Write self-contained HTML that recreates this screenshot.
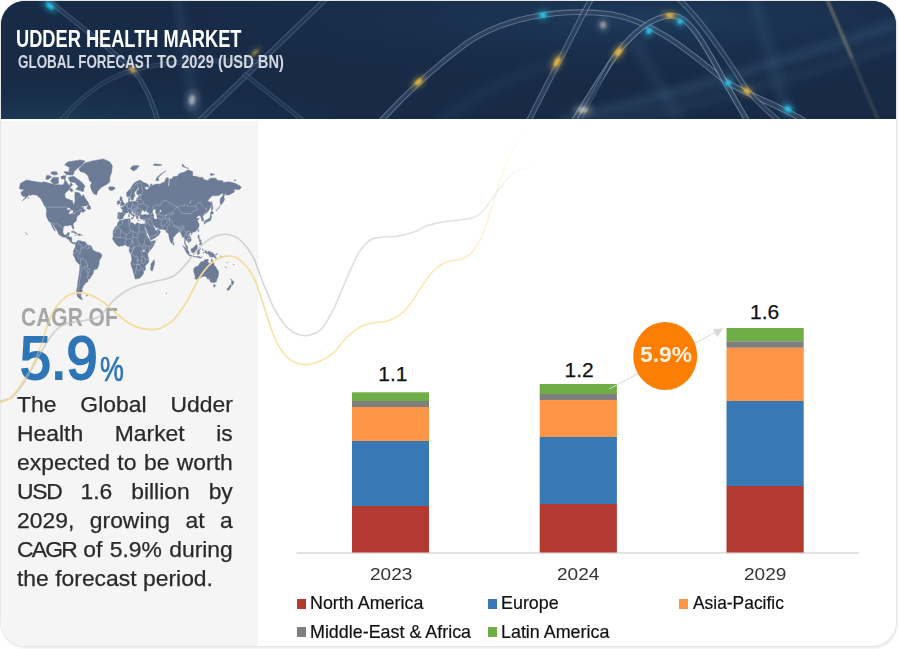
<!DOCTYPE html>
<html><head><meta charset="utf-8"><title>Udder Health Market</title>
<style>
html,body{margin:0;padding:0;background:#fff;}
body{width:900px;height:649px;position:relative;overflow:hidden;font-family:"Liberation Sans",sans-serif;}
#card{position:absolute;left:1px;top:1px;width:895px;height:645px;border-radius:24px;overflow:hidden;background:#fff;box-shadow:0 0 0 1px #e6e6e6, 1px 2px 3px rgba(0,0,0,.10);}
#hdr{position:absolute;left:0;top:0;width:895px;height:117.7px;background:#172b47;overflow:hidden;}
#left{position:absolute;left:0;top:120px;width:256.7px;height:530px;background:#f5f5f5;}
.t{position:absolute;white-space:nowrap;transform-origin:0 0;line-height:1;}
#title{left:14.6px;top:25.6px;font-size:24.5px;font-weight:bold;color:#fff;transform:scaleX(.744);}
#sub{left:16.5px;top:52px;font-size:18px;font-weight:bold;color:#d3d8e0;transform:scaleX(.746);}
#sub2{left:155.7px;top:52px;font-size:18px;font-weight:bold;color:#d3d8e0;transform:scaleX(.815);}
#cagr{left:21.2px;top:304.3px;font-size:26px;font-weight:bold;color:#a6a6a6;transform:scaleX(.807);}
#big{left:19.6px;top:327.3px;font-size:62px;font-weight:normal;-webkit-text-stroke:2.2px #2e75b6;color:#2e75b6;transform:scaleX(.90);}
#pct{left:99.9px;top:350.7px;font-size:35px;font-weight:normal;-webkit-text-stroke:.7px #2e75b6;color:#2e75b6;transform:scaleX(.767);}
#para{position:absolute;left:17px;top:391.25px;width:203.6px;font-size:21.6px;line-height:28.87px;color:#2a2a2a;text-align:justify;transform:scaleX(1.06);transform-origin:0 0;-webkit-text-stroke:.25px #2a2a2a;}
#para div{text-align:justify;text-align-last:justify;white-space:nowrap;}
#para div.last{text-align-last:left;}
.val{font-size:21px;color:#111;-webkit-text-stroke:.25px #111;}
.yr{font-size:17px;color:#333;transform:scaleX(1.12);}
.lg{font-size:17.8px;color:#111;transform:scaleX(1.006);-webkit-text-stroke:.2px #111;}
.mk{position:absolute;width:9.5px;height:9.5px;}
</style></head><body>
<div id="card">
<div id="hdr">
<svg width="895" height="118" viewBox="1 1 895 118" style="position:absolute;left:0;top:0">
<defs>
<radialGradient id="hg1" cx="0.72" cy="0.15" r="0.55"><stop offset="0" stop-color="#25476d" stop-opacity=".55"/><stop offset="1" stop-color="#172b47" stop-opacity="0"/></radialGradient>
<radialGradient id="hg2" cx="0.05" cy="1" r="0.35"><stop offset="0" stop-color="#1d4461" stop-opacity=".6"/><stop offset="1" stop-color="#1a2f4c" stop-opacity="0"/></radialGradient>
<filter id="b0" x="-10%" y="-10%" width="120%" height="120%"><feGaussianBlur stdDeviation=".5"/></filter>
<filter id="b1" x="-20%" y="-20%" width="140%" height="140%"><feGaussianBlur stdDeviation="1.1"/></filter>
<filter id="b2" x="-50%" y="-50%" width="200%" height="200%"><feGaussianBlur stdDeviation="2.5"/></filter>
<filter id="b3" x="-20%" y="-20%" width="140%" height="140%"><feGaussianBlur stdDeviation="5"/></filter>
</defs>
<rect x="0" y="0" width="900" height="120" fill="#172b47"/>
<rect x="0" y="0" width="900" height="120" fill="url(#hg1)"/>
<rect x="0" y="0" width="900" height="120" fill="url(#hg2)"/>
<g id="streaks"><path d="M560 122 C 680 95 800 55 905 22" fill="none" stroke="#4b6d92" stroke-width="9" stroke-opacity="0.33" filter="url(#b3)"/><path d="M590 128 C 700 105 820 70 905 42" fill="none" stroke="#4b6d92" stroke-width="7" stroke-opacity="0.22" filter="url(#b3)"/><path d="M753 -3 L 790 122" fill="none" stroke="#4b6d92" stroke-width="9" stroke-opacity="0.22" filter="url(#b3)"/><path d="M633 38 L 680 122" fill="none" stroke="#4b6d92" stroke-width="9" stroke-opacity="0.2" filter="url(#b3)"/><path d="M177 -3 L 198 122" fill="none" stroke="#5c7896" stroke-width="8" stroke-opacity="0.2" filter="url(#b3)"/><path d="M440 122 C 470 100 500 80 560 60" fill="none" stroke="#4b6d92" stroke-width="10" stroke-opacity="0.12" filter="url(#b3)"/><path d="M380 122 C 400 100 430 70 467 43 C 505 17 560 8 610 14 C 660 22 700 62 728 83 C 755 98 785 108 806 122" fill="none" stroke="#9fb0c8" stroke-width="5.7" stroke-opacity="0.5" filter="url(#b0)"/><path d="M380 122 C 400 100 430 70 467 43 C 505 17 560 8 610 14 C 660 22 700 62 728 83 C 755 98 785 108 806 122" fill="none" stroke="#19304e" stroke-width="3.5" stroke-opacity="0.72"/><path d="M573 122 C 590 95 605 70 618 52 C 632 34 652 16 672 15.5 C 690 16 704 45 717 67 C 728 88 738 105 748 122" fill="none" stroke="#9fb0c8" stroke-width="5.7" stroke-opacity="0.55" filter="url(#b0)"/><path d="M573 122 C 590 95 605 70 618 52 C 632 34 652 16 672 15.5 C 690 16 704 45 717 67 C 728 88 738 105 748 122" fill="none" stroke="#19304e" stroke-width="3.5" stroke-opacity="0.72"/><path d="M528 122 L 592 -3" fill="none" stroke="#9fb0c8" stroke-width="5.7" stroke-opacity="0.45" filter="url(#b0)"/><path d="M528 122 L 592 -3" fill="none" stroke="#19304e" stroke-width="3.5" stroke-opacity="0.72"/><path d="M676 -3 C 695 12 725 55 747 90 C 760 105 770 113 780 122" fill="none" stroke="#9fb0c8" stroke-width="5.3" stroke-opacity="0.42" filter="url(#b0)"/><path d="M676 -3 C 695 12 725 55 747 90 C 760 105 770 113 780 122" fill="none" stroke="#19304e" stroke-width="3.0999999999999996" stroke-opacity="0.72"/><path d="M826 -3 L 879 122" fill="none" stroke="#b6a27e" stroke-width="3.2" stroke-opacity=".2" filter="url(#b1)"/><path d="M826 -3 L 852 58" fill="none" stroke="#c9b48a" stroke-width="3" stroke-opacity=".28" filter="url(#b1)"/><path d="M44 -3 C 75 22 112 50 133 70 C 145 84 152 100 158 122" fill="none" stroke="#9fb0c8" stroke-width="4.9" stroke-opacity="0.3" filter="url(#b0)"/><path d="M44 -3 C 75 22 112 50 133 70 C 145 84 152 100 158 122" fill="none" stroke="#19304e" stroke-width="2.7" stroke-opacity="0.72"/><path d="M60 122 C 78 100 100 80 133 70 C 170 60 215 60 262 62" fill="none" stroke="#9fb0c8" stroke-width="4.7" stroke-opacity="0.2" filter="url(#b0)"/><path d="M60 122 C 78 100 100 80 133 70 C 170 60 215 60 262 62" fill="none" stroke="#19304e" stroke-width="2.5" stroke-opacity="0.72"/><path d="M198 122 L 330 -5" fill="none" stroke="#9fb0c8" stroke-width="5.3" stroke-opacity="0.3" filter="url(#b0)"/><path d="M198 122 L 330 -5" fill="none" stroke="#19304e" stroke-width="3.0999999999999996" stroke-opacity="0.72"/><path d="M243 73 L 305 122" fill="none" stroke="#9fb0c8" stroke-width="4.7" stroke-opacity="0.22" filter="url(#b0)"/><path d="M243 73 L 305 122" fill="none" stroke="#19304e" stroke-width="2.5" stroke-opacity="0.72"/><path d="M578 122 L 612 60" fill="none" stroke="#9fb0c8" stroke-width="4.7" stroke-opacity="0.25" filter="url(#b0)"/><path d="M578 122 L 612 60" fill="none" stroke="#19304e" stroke-width="2.5" stroke-opacity="0.72"/><ellipse cx="50" cy="6" rx="9.9" ry="5.720000000000001" fill="#28c3e6" opacity="0.33249999999999996" filter="url(#b2)" transform="rotate(40 50 6)"/><ellipse cx="50" cy="6" rx="4.5" ry="2.6" fill="#28c3e6" opacity="0.95" filter="url(#b1)" transform="rotate(40 50 6)"/><ellipse cx="132.5" cy="69.5" rx="6.6000000000000005" ry="4.840000000000001" fill="#e3b54c" opacity="0.27999999999999997" filter="url(#b2)" transform="rotate(40 132.5 69.5)"/><ellipse cx="132.5" cy="69.5" rx="3" ry="2.2" fill="#e3b54c" opacity="0.8" filter="url(#b1)" transform="rotate(40 132.5 69.5)"/><ellipse cx="192" cy="100" rx="7.040000000000001" ry="11.0" fill="#dfe3e8" opacity="0.1925" filter="url(#b2)" transform="rotate(8 192 100)"/><ellipse cx="192" cy="100" rx="3.2" ry="5" fill="#dfe3e8" opacity="0.55" filter="url(#b1)" transform="rotate(8 192 100)"/><ellipse cx="255" cy="52.5" rx="8.8" ry="3.9600000000000004" fill="#e3b54c" opacity="0.175" filter="url(#b2)" transform="rotate(-45 255 52.5)"/><ellipse cx="255" cy="52.5" rx="4" ry="1.8" fill="#e3b54c" opacity="0.5" filter="url(#b1)" transform="rotate(-45 255 52.5)"/><ellipse cx="418.5" cy="82" rx="8.8" ry="5.28" fill="#e8b842" opacity="0.33249999999999996" filter="url(#b2)" transform="rotate(-40 418.5 82)"/><ellipse cx="418.5" cy="82" rx="4" ry="2.4" fill="#e8b842" opacity="0.95" filter="url(#b1)" transform="rotate(-40 418.5 82)"/><ellipse cx="543" cy="15" rx="7.040000000000001" ry="5.720000000000001" fill="#2ec5ea" opacity="0.33249999999999996" filter="url(#b2)" transform="rotate(-10 543 15)"/><ellipse cx="543" cy="15" rx="3.2" ry="2.6" fill="#2ec5ea" opacity="0.95" filter="url(#b1)" transform="rotate(-10 543 15)"/><ellipse cx="557" cy="62" rx="5.720000000000001" ry="11.0" fill="#e8b842" opacity="0.33249999999999996" filter="url(#b2)" transform="rotate(27 557 62)"/><ellipse cx="557" cy="62" rx="2.6" ry="5" fill="#e8b842" opacity="0.95" filter="url(#b1)" transform="rotate(27 557 62)"/><ellipse cx="583" cy="110" rx="11.0" ry="7.040000000000001" fill="#e9e2d2" opacity="0.1925" filter="url(#b2)" transform="rotate(0 583 110)"/><ellipse cx="583" cy="110" rx="5" ry="3.2" fill="#e9e2d2" opacity="0.55" filter="url(#b1)" transform="rotate(0 583 110)"/><ellipse cx="603" cy="25" rx="6.6000000000000005" ry="7.48" fill="#d9cfc4" opacity="0.175" filter="url(#b2)" transform="rotate(0 603 25)"/><ellipse cx="603" cy="25" rx="3" ry="3.4" fill="#d9cfc4" opacity="0.5" filter="url(#b1)" transform="rotate(0 603 25)"/><ellipse cx="618.5" cy="52" rx="5.720000000000001" ry="10.12" fill="#e8b842" opacity="0.33249999999999996" filter="url(#b2)" transform="rotate(35 618.5 52)"/><ellipse cx="618.5" cy="52" rx="2.6" ry="4.6" fill="#e8b842" opacity="0.95" filter="url(#b1)" transform="rotate(35 618.5 52)"/><ellipse cx="649" cy="31" rx="5.720000000000001" ry="6.6000000000000005" fill="#2ec5ea" opacity="0.33249999999999996" filter="url(#b2)" transform="rotate(30 649 31)"/><ellipse cx="649" cy="31" rx="2.6" ry="3" fill="#2ec5ea" opacity="0.95" filter="url(#b1)" transform="rotate(30 649 31)"/><ellipse cx="670" cy="15.5" rx="8.8" ry="4.840000000000001" fill="#e8b842" opacity="0.315" filter="url(#b2)" transform="rotate(5 670 15.5)"/><ellipse cx="670" cy="15.5" rx="4" ry="2.2" fill="#e8b842" opacity="0.9" filter="url(#b1)" transform="rotate(5 670 15.5)"/><ellipse cx="680" cy="21.5" rx="5.720000000000001" ry="5.720000000000001" fill="#2ec5ea" opacity="0.33249999999999996" filter="url(#b2)" transform="rotate(40 680 21.5)"/><ellipse cx="680" cy="21.5" rx="2.6" ry="2.6" fill="#2ec5ea" opacity="0.95" filter="url(#b1)" transform="rotate(40 680 21.5)"/><ellipse cx="728" cy="83" rx="5.720000000000001" ry="6.16" fill="#2ec5ea" opacity="0.33249999999999996" filter="url(#b2)" transform="rotate(30 728 83)"/><ellipse cx="728" cy="83" rx="2.6" ry="2.8" fill="#2ec5ea" opacity="0.95" filter="url(#b1)" transform="rotate(30 728 83)"/><ellipse cx="747" cy="91" rx="8.36" ry="5.28" fill="#e8b842" opacity="0.315" filter="url(#b2)" transform="rotate(35 747 91)"/><ellipse cx="747" cy="91" rx="3.8" ry="2.4" fill="#e8b842" opacity="0.9" filter="url(#b1)" transform="rotate(35 747 91)"/><ellipse cx="788" cy="109" rx="7.48" ry="6.16" fill="#2ec5ea" opacity="0.33249999999999996" filter="url(#b2)" transform="rotate(35 788 109)"/><ellipse cx="788" cy="109" rx="3.4" ry="2.8" fill="#2ec5ea" opacity="0.95" filter="url(#b1)" transform="rotate(35 788 109)"/></g>
</svg>
<div class="t" id="title">UDDER HEALTH MARKET</div>
<div class="t" id="sub">GLOBAL FORECAST</div><div class="t" id="sub2">TO 2029 (USD BN)</div>
</div>
<div id="left"></div>
</div>

<svg width="900" height="649" viewBox="0 0 900 649" style="position:absolute;left:0;top:0">
<defs>
<linearGradient id="gg" gradientUnits="userSpaceOnUse" x1="0" y1="0" x2="540" y2="0"><stop offset="0" stop-color="#d2d2d2"/><stop offset=".47" stop-color="#d2d2d2"/><stop offset=".5" stop-color="#dadada"/><stop offset=".85" stop-color="#e3e3e3"/><stop offset="1" stop-color="#e3e3e3" stop-opacity="0"/></linearGradient>
<linearGradient id="yg" gradientUnits="userSpaceOnUse" x1="0" y1="0" x2="530" y2="0"><stop offset="0" stop-color="#f5dc98"/><stop offset=".48" stop-color="#f5dc98"/><stop offset=".52" stop-color="#fbe3a6"/><stop offset=".85" stop-color="#fde9b8"/><stop offset="1" stop-color="#fde9b8" stop-opacity="0"/></linearGradient>
</defs>
<g id="map">
<path d="M19.3 187.9L20.5 183.4L26.4 180.0L36.0 181.8L41.0 182.6L44.1 181.8L52.2 184.0L56.5 184.7L62.7 184.9L64.6 182.6L64.6 178.9L66.4 181.8L69.5 186.0L70.8 182.6L72.6 184.7L70.1 187.4L68.9 190.0L67.0 191.2L64.9 193.7L64.9 196.4L66.1 198.5L72.3 200.7L73.2 204.0L73.9 204.8L74.5 202.9L75.1 200.7L74.8 196.7L75.1 191.9L78.2 192.5L80.1 193.7L81.3 196.7L83.3 194.6L85.3 198.5L87.8 201.8L88.9 204.0L86.3 205.9L82.5 206.1L80.7 207.7L83.5 207.2L83.5 209.2L85.6 210.2L82.7 212.7L81.9 211.2L79.9 212.7L80.1 214.2L78.8 215.1L77.6 215.6L77.0 217.0L76.3 218.9L76.6 220.5L75.1 221.8L73.2 223.4L73.1 225.2L73.9 227.8L73.5 229.3L72.7 228.6L72.1 226.9L71.4 225.2L68.9 224.9L68.0 226.0L65.5 225.4L63.3 226.9L63.2 228.8L62.8 232.0L63.9 234.6L65.2 235.1L67.0 234.6L67.5 232.9L69.5 232.5L68.9 235.0L68.4 237.0L71.4 237.2L71.9 237.9L71.6 241.1L72.3 242.3L74.2 242.8L75.1 242.3L75.5 243.2L75.2 244.1L73.9 243.3L73.4 244.1L72.0 243.2L70.3 241.9L69.1 239.5L67.3 238.8L65.2 237.3L62.7 237.0L60.5 235.8L58.4 234.1L58.0 232.5L57.4 231.0L55.7 228.6L54.3 226.5L53.1 224.0L52.3 224.3L53.5 226.9L55.0 229.9L55.4 231.2L53.9 229.7L52.3 227.1L51.7 225.2L50.9 223.0L48.8 221.2L47.8 219.3L47.2 217.9L46.3 215.7L46.3 213.2L46.6 210.0L46.1 207.8L47.2 207.2L44.2 205.1L42.5 201.8L41.0 199.0L38.8 196.9L36.7 195.2L32.9 194.6L29.8 195.5L30.1 193.7L28.0 196.1L25.5 198.5L22.1 200.7L24.3 199.0L25.8 196.5L23.0 196.5L21.2 194.3L21.2 191.9L23.6 190.6L23.6 189.3L20.2 189.3ZM73.9 176.3L76.3 178.2L81.3 181.8L85.0 186.0L83.8 188.7L83.2 191.9L80.1 190.6L75.7 189.3L78.2 186.7L75.1 182.6L70.1 181.8L68.3 177.4ZM58.4 177.4L58.4 183.5L53.4 184.0L50.6 181.1L52.8 177.4ZM46.6 175.4L45.7 178.9L47.8 179.7L51.5 176.9L49.1 175.4ZM80.1 159.9L85.0 160.9L81.3 165.7L76.3 169.3L73.9 171.8L68.9 171.0L69.5 167.5L64.6 164.8L67.7 161.9ZM73.9 171.8L73.9 173.5L72.6 175.1L66.4 174.7L63.9 171.8ZM56.5 171.8L57.7 174.3L54.0 175.1L50.9 173.5L51.5 171.8ZM65.8 175.8L65.2 178.9L61.5 178.9L60.8 176.6L63.3 175.8ZM70.8 188.0L73.2 190.6L71.7 191.9L69.5 190.0ZM103.6 158.9L109.8 161.9L112.3 165.7L111.7 171.8L109.8 177.4L109.8 181.8L107.3 184.0L101.1 187.4L97.7 191.2L96.5 194.9L93.7 193.7L91.5 190.0L90.3 186.0L91.8 182.6L89.4 180.4L88.1 175.8L84.4 172.6L80.7 171.8L78.8 169.3L81.9 165.7L85.0 162.9L92.5 160.9ZM109.5 186.7L114.2 187.0L115.0 188.7L112.0 190.6L109.5 190.0L108.4 188.0ZM88.7 204.5L90.3 206.6L90.6 209.2L88.7 209.2L86.7 208.5L87.5 206.6ZM79.0 240.0L77.3 241.1L76.0 242.8L75.7 243.6L75.3 244.4L75.5 246.8L74.5 248.8L73.4 250.8L73.7 252.8L73.1 254.8L74.6 257.2L76.2 261.3L79.1 264.2L79.9 265.0L79.8 269.2L79.1 274.8L77.9 281.1L77.6 285.8L76.7 290.3L76.8 293.9L77.9 297.1L79.4 298.2L81.0 299.3L82.5 299.3L81.1 297.1L81.1 296.3L80.7 293.9L82.5 290.8L81.9 288.8L83.2 286.8L83.2 284.9L84.9 284.7L85.0 283.0L87.7 282.1L88.1 280.5L87.8 279.1L89.4 279.2L90.3 277.9L92.3 274.8L93.2 273.5L93.4 270.9L94.8 269.6L97.4 268.8L98.0 267.1L99.0 264.6L99.3 260.5L100.8 258.1L101.9 256.0L101.6 254.2L99.0 252.4L96.2 252.0L94.3 250.8L92.5 250.0L92.5 248.6L91.5 246.5L90.0 245.3L87.9 245.2L86.3 243.2L85.0 241.9L84.1 241.4L83.2 241.8L81.9 241.5L80.2 240.7L79.3 241.1ZM117.9 218.9L117.6 217.3L118.0 215.1L117.8 213.0L118.5 212.6L121.1 212.8L122.3 212.8L122.7 210.2L121.9 208.9L120.5 207.8L122.4 207.5L122.5 206.4L123.6 206.8L124.7 205.1L125.7 204.6L126.4 202.9L127.8 202.5L128.9 201.9L128.5 200.2L128.7 198.5L130.0 197.6L130.0 199.6L129.5 200.3L129.8 201.4L130.3 201.8L131.8 201.6L134.9 201.3L135.7 201.4L136.5 199.6L136.9 197.9L138.3 198.5L138.5 196.8L138.7 195.7L140.8 195.5L141.9 194.9L140.5 194.3L137.7 194.9L136.7 193.7L136.8 191.2L139.1 188.7L138.3 187.6L136.5 190.0L134.4 191.9L134.2 194.1L135.1 195.5L133.8 197.3L133.4 199.4L132.3 200.3L131.5 200.3L131.3 199.0L130.5 197.3L130.1 196.1L129.5 196.1L128.1 197.3L127.1 196.7L126.6 194.3L126.7 192.5L128.7 190.6L130.6 188.7L132.5 185.3L133.4 184.0L135.2 182.3L137.7 181.1L139.6 180.2L141.8 181.1L142.7 182.1L144.2 182.8L146.1 183.3L148.9 185.3L148.3 187.0L144.5 186.7L145.2 188.7L146.7 190.0L148.3 189.3L148.6 187.8L149.8 186.4L150.7 186.7L150.4 184.0L152.0 184.2L151.4 186.0L153.2 185.1L156.9 184.0L160.0 184.2L161.3 183.3L163.8 182.1L164.4 183.3L165.0 180.4L166.9 177.4L168.7 178.2L168.7 180.4L168.1 184.7L168.1 186.7L169.3 184.7L170.0 178.9L171.8 178.9L173.4 176.6L177.4 176.3L179.3 173.5L184.2 172.3L187.9 169.8L192.9 171.8L192.3 175.8L196.6 176.6L199.7 177.4L202.8 177.4L204.1 179.7L207.8 180.4L210.3 178.2L215.8 178.2L217.7 180.4L222.7 180.7L223.3 182.6L228.9 181.8L235.1 183.3L240.0 186.0L241.3 187.4L239.4 189.6L233.8 189.3L234.4 191.9L228.9 194.9L225.8 194.9L225.1 192.5L223.9 197.3L224.5 199.6L222.7 202.9L220.8 205.1L220.0 201.8L220.5 198.5L223.3 194.9L222.7 193.1L218.9 195.5L215.2 195.8L212.1 195.8L209.0 199.0L207.5 201.3L210.9 202.4L211.1 204.0L210.4 207.7L208.1 211.2L206.2 213.2L204.7 213.5L203.9 215.1L202.5 216.3L203.1 217.9L203.8 219.8L203.4 220.7L201.9 221.2L201.8 219.1L201.0 218.1L201.0 216.5L200.3 216.3L199.1 215.3L196.6 217.0L196.9 218.4L199.3 218.4L198.2 219.6L197.4 221.2L198.8 223.4L199.1 224.7L198.8 226.9L197.6 229.1L195.8 231.2L194.1 231.9L192.2 232.5L191.7 233.5L190.7 232.5L189.5 233.7L189.1 235.0L190.5 237.0L191.2 239.5L190.9 241.1L189.8 241.6L188.6 243.0L188.4 241.9L187.3 240.7L186.1 239.7L185.8 239.1L185.2 241.1L185.2 242.8L185.8 244.4L186.8 245.2L187.6 247.2L188.1 248.9L187.0 248.6L186.1 247.2L185.6 245.2L184.5 243.6L184.6 241.9L184.4 239.1L184.0 237.0L182.7 237.0L181.9 237.2L182.1 235.8L181.1 233.7L180.4 232.0L179.3 232.0L178.3 232.3L177.4 232.9L176.3 234.1L174.5 236.2L173.2 237.5L173.2 239.5L172.9 241.7L172.4 242.6L171.5 243.5L170.7 241.9L169.8 239.7L169.2 237.5L168.6 234.6L168.5 232.9L167.4 233.1L166.2 231.8L165.8 230.8L165.0 229.7L161.9 229.2L159.4 229.2L158.5 227.8L156.9 228.0L155.3 226.9L154.2 225.2L153.3 225.6L154.3 227.8L155.0 229.1L155.6 230.4L156.9 230.2L158.3 228.8L159.1 230.4L160.5 231.6L159.7 233.3L158.5 235.4L156.9 236.4L154.8 237.9L152.9 239.1L151.2 239.7L150.3 239.5L149.9 237.5L149.1 235.4L147.8 232.9L146.6 229.9L145.2 226.9L145.2 225.6L144.8 226.9L144.7 227.1L143.7 225.3L143.5 224.1L144.7 224.0L145.3 222.5L145.7 219.8L145.9 219.1L144.2 219.6L142.7 219.1L142.1 219.5L140.8 219.1L139.9 217.6L139.7 216.5L140.0 215.6L141.4 215.1L143.0 214.9L145.2 214.2L147.3 215.1L149.2 214.6L148.6 213.2L147.0 211.7L146.2 210.9L147.6 209.2L145.2 210.2L145.5 210.9L144.5 211.7L143.7 210.7L142.7 209.7L141.9 210.9L141.1 212.7L140.7 214.2L141.3 214.9L141.1 215.1L139.7 215.5L138.7 215.2L138.2 216.1L137.6 215.6L137.8 217.0L138.3 217.9L137.6 219.3L136.9 218.9L136.6 217.5L135.9 216.4L135.6 214.6L134.9 213.7L133.4 212.7L132.5 211.2L132.0 210.5L131.1 210.8L131.3 212.2L132.5 214.2L133.4 214.3L134.8 215.6L134.9 216.1L134.0 215.6L133.8 216.5L133.2 217.9L133.5 217.1L133.1 216.1L132.0 215.1L130.4 213.7L129.3 212.2L128.8 211.9L127.9 212.7L126.7 213.0L125.8 212.8L125.4 213.8L124.8 214.8L123.3 216.5L123.6 217.3L123.0 218.3L122.1 219.1L120.7 219.1L120.0 219.8L119.3 218.9ZM120.0 206.1L122.8 205.4L124.3 204.9L124.5 203.1L123.5 202.4L122.7 201.2L121.9 199.6L122.3 197.9L121.0 197.6L121.5 196.6L120.4 196.7L119.9 198.5L120.0 199.6L120.4 200.7L121.4 200.9L121.6 202.0L120.7 202.6L120.5 204.0L120.2 204.3L121.6 204.5L121.3 204.9ZM118.9 200.4L120.0 201.3L119.6 203.8L117.4 204.5L117.3 202.6L117.3 201.5ZM119.8 220.0L121.9 220.5L125.3 219.1L128.1 218.9L129.5 218.6L130.3 219.1L130.0 221.2L130.3 222.1L131.5 222.7L132.9 223.1L134.9 224.7L135.9 224.3L136.8 222.7L138.0 223.0L139.6 223.8L141.4 224.3L142.7 223.8L143.5 224.1L143.7 225.3L144.4 227.4L145.5 230.4L146.4 232.0L146.6 234.6L148.0 237.5L150.3 239.9L150.2 240.7L151.1 241.5L153.2 240.9L155.2 240.5L155.2 241.6L154.5 243.6L153.3 246.0L151.7 248.4L149.5 250.8L148.1 253.2L147.6 255.2L148.6 258.5L148.7 262.1L147.3 263.8L145.1 266.1L145.5 269.6L143.8 271.3L143.5 273.5L142.1 275.7L139.6 278.2L135.9 279.1L134.9 278.6L134.7 276.6L133.7 273.5L132.5 268.8L130.8 264.6L130.9 262.5L132.0 259.7L131.5 257.2L130.9 254.0L129.0 250.8L129.3 249.2L129.5 246.9L128.4 246.4L127.2 246.5L126.2 244.9L124.4 245.0L122.2 246.0L121.0 245.8L118.8 246.5L116.6 244.8L115.3 243.2L114.0 241.1L113.0 239.9L112.6 238.1L113.2 236.6L113.2 234.1L112.9 232.9L113.5 230.4L114.5 228.6L115.4 226.9L117.4 225.2L117.7 223.0L118.9 221.8ZM154.0 259.7L154.6 262.5L154.2 264.6L153.2 268.0L152.6 270.5L151.4 270.9L150.5 268.8L150.9 266.3L151.1 263.4L152.3 262.5L153.2 260.9ZM211.8 258.6L212.6 261.7L213.5 262.0L214.3 265.4L215.8 267.1L217.0 269.2L218.3 270.9L218.7 273.5L218.0 277.0L216.9 279.3L216.5 281.6L214.9 282.1L214.2 283.0L213.1 282.3L211.8 282.5L210.6 282.1L210.0 280.2L209.3 279.8L209.3 279.1L208.9 277.5L208.3 279.3L207.6 279.1L206.4 276.8L204.7 276.2L203.1 276.3L201.6 277.0L200.0 278.2L197.9 278.4L196.6 279.3L194.9 278.8L195.2 276.6L194.6 274.0L193.8 271.4L193.8 269.6L194.0 268.0L196.0 266.7L197.6 266.3L199.2 264.6L199.7 263.4L201.0 262.1L202.2 261.3L203.4 262.1L204.1 260.5L204.7 259.7L205.9 259.7L208.1 259.3L208.3 259.9L207.7 261.7L208.7 263.0L210.3 264.4L210.9 264.2L211.3 261.3ZM213.4 284.7L215.4 284.9L214.6 287.3L214.0 287.3ZM230.6 278.8L232.3 280.7L234.0 281.8L233.5 283.3L232.1 285.4L232.0 284.4L231.3 283.3L231.8 281.1ZM230.5 284.5L231.5 285.4L230.6 287.3L229.2 289.8L227.9 290.4L226.7 289.6L228.9 286.8ZM211.5 210.7L213.7 212.9L212.1 214.2L210.6 214.6L210.6 212.9ZM210.9 214.8L211.5 217.0L210.8 219.8L210.3 220.7L208.4 221.0L207.7 222.1L207.2 221.2L204.7 221.6L205.9 220.2L208.2 219.3L208.5 218.4L209.3 218.9L210.1 217.5L210.3 215.6ZM204.7 221.6L204.1 222.1L204.2 224.1L205.0 223.8L205.3 222.2L205.9 222.5L206.7 222.2L206.7 221.4L205.9 221.6ZM211.8 201.5L212.2 204.0L212.7 207.2L212.4 210.2L211.5 210.2L211.6 206.1L211.4 202.9ZM182.5 245.5L185.2 247.6L187.8 250.0L189.2 252.4L189.1 254.7L187.0 253.6L185.6 250.8L184.5 248.4L183.3 246.8ZM188.9 254.8L190.7 255.1L192.2 255.5L193.3 255.5L194.4 256.2L194.5 257.0L191.7 256.4L189.5 256.0ZM195.1 256.6L197.2 256.7L199.7 256.6L200.7 257.7L200.0 258.1L197.2 257.2L195.4 257.1ZM196.0 244.4L197.4 245.7L197.1 249.2L196.3 250.6L195.4 253.2L193.5 252.7L191.8 252.4L191.0 250.0L191.5 248.4L192.3 248.8L193.5 247.6L195.1 246.0ZM201.0 248.8L197.9 249.6L197.4 252.4L197.6 254.5L199.4 254.0L199.1 251.6L199.9 250.6L198.5 249.8L200.3 249.2ZM204.7 250.4L206.5 251.2L207.5 252.7L208.7 251.2L210.9 252.1L212.7 252.8L214.0 254.4L215.1 255.4L215.2 256.4L216.8 258.3L214.9 258.1L213.4 256.4L212.1 257.2L209.6 256.6L209.3 255.6L208.4 254.0L205.9 253.2L205.3 252.0ZM198.5 235.0L199.2 235.1L199.1 237.0L199.1 238.7L200.3 239.5L200.0 239.9L198.5 238.8L198.2 238.3L197.9 236.8ZM201.3 242.1L201.9 244.4L201.3 245.2L200.3 244.4L199.1 244.4L200.0 243.2ZM200.7 239.9L201.3 241.1L200.3 241.9L199.4 241.9L199.1 240.7ZM198.8 229.3L198.4 232.0L197.9 231.2ZM173.1 242.2L174.2 244.0L173.4 245.2L172.9 244.4ZM192.0 233.7L191.4 235.1L190.9 234.6ZM71.1 232.0L72.6 231.2L74.5 231.6L76.3 232.9L77.4 233.7L75.4 233.8L73.9 232.5ZM78.2 233.9L80.4 234.1L81.0 235.1L79.1 235.4L77.4 235.1ZM132.8 165.7L139.0 165.7L136.5 169.3L133.4 171.0L130.3 168.4ZM165.6 171.0L160.7 174.3L156.9 177.4L155.7 180.4L158.8 180.8L158.2 177.4L162.5 173.5ZM182.4 163.8L185.5 167.5L188.6 168.4L182.4 166.6ZM154.5 163.8L161.9 164.8L159.4 165.7L153.2 165.3ZM210.3 173.5L214.6 174.3L210.9 175.8ZM234.4 179.7L236.3 180.4L234.4 180.7ZM26.7 233.6L27.4 234.6L26.4 234.1ZM25.2 232.2L25.8 232.7L25.3 232.6ZM129.2 214.9L129.4 216.8L128.7 217.0L128.6 215.3ZM129.3 213.2L129.2 214.7L128.8 213.9ZM133.1 217.8L132.8 219.1L131.2 218.4L131.5 217.8ZM138.0 220.2L139.8 220.5L138.7 220.8ZM144.8 220.2L143.9 221.1L143.5 220.5ZM86.3 295.2L87.6 295.5L86.6 296.2ZM166.2 292.8L167.0 293.5L166.2 293.4ZM225.1 266.3L226.9 268.2L226.1 267.5ZM233.5 264.0L234.1 264.6L233.4 264.6ZM226.9 262.1L227.3 263.2L226.9 262.6ZM220.2 255.6L222.7 257.7L222.4 257.9ZM217.7 253.4L217.1 254.4L215.8 255.0L215.5 254.4ZM220.2 205.6L217.1 210.2L215.8 210.7L217.4 209.7ZM28.6 197.3L28.3 198.5L27.7 197.9ZM44.0 205.3L46.9 207.7L46.3 207.8L44.4 206.1ZM75.0 235.0L76.2 235.4L75.4 235.6ZM81.8 235.0L82.7 235.4L81.8 235.4ZM156.6 239.8L157.2 240.0L156.6 240.1ZM202.8 248.6L202.9 250.6L202.5 249.6ZM202.9 252.2L204.6 252.7L203.1 252.8ZM202.2 256.7L200.2 258.3L200.8 257.5Z" fill="#6d7c96" stroke="#6d7c96" stroke-width=".5" stroke-linejoin="round"/>
<path d="M153.8 209.2L156.0 209.7L155.1 211.7L156.2 214.2L156.6 216.1L156.9 218.9L155.1 219.1L153.8 217.5L154.2 215.1L152.9 213.2L152.6 211.2ZM68.6 207.4L70.9 209.2L69.5 209.7L66.4 209.4ZM70.8 210.2L73.2 210.4L72.7 213.0L69.2 214.2L69.2 212.2ZM74.5 213.4L76.0 212.5L74.2 212.9L72.0 214.5L73.9 214.0ZM160.4 209.7L161.6 211.2L160.0 212.2L159.6 210.7ZM191.5 199.9L190.7 202.4L187.9 204.4L190.0 202.4ZM143.3 249.8L144.7 250.0L144.2 252.0L143.2 252.0Z" fill="#f5f5f5"/>
<path d="M47.2 207.2L64.6 207.2L68.0 208.2M77.1 211.2L79.1 211.2L80.7 208.9L81.3 209.0L81.7 211.0M50.9 223.0L52.3 222.8L54.6 224.0L56.4 224.0L57.4 223.6L58.7 225.6L60.5 225.4L61.8 227.4L63.2 228.7M68.2 235.6L67.0 235.6L67.3 237.0L66.3 237.0L66.3 238.3M74.6 249.0L76.7 250.0L80.1 253.4L80.4 252.0L80.2 249.2L81.9 249.0L81.4 246.8L81.6 245.0L78.8 244.4L78.2 242.8L79.3 240.5M80.1 253.4L77.7 255.9L78.2 257.7L79.8 258.9L80.4 258.9L80.9 260.1L80.4 263.0L80.4 264.2L79.9 264.9M73.7 252.7L74.5 254.0L76.7 252.4L76.7 250.0M80.4 258.9L82.8 257.9L83.3 259.7L85.6 260.9L86.3 263.2L87.3 263.2L87.7 264.6L87.4 266.1L87.5 266.4M80.4 264.2L81.4 268.6L84.5 268.0L85.1 265.7L87.5 266.4L87.6 268.1M81.4 268.6L81.0 272.2L80.1 277.5L79.4 282.1L78.9 286.8L78.0 292.8L80.1 296.0L81.1 296.4M84.5 268.0L87.7 270.8L87.1 272.5L88.7 272.5L89.6 271.0L89.8 269.6L87.6 268.1M88.7 272.5L87.7 275.0L87.3 278.1L87.4 278.6M87.7 275.0L90.5 277.0L90.4 278.1M81.4 246.8L83.8 248.4L84.6 246.8L85.8 245.8L86.9 249.0L88.7 248.5L89.7 248.2L91.4 246.6M85.8 245.8L86.4 243.2M88.7 248.5L88.0 245.2M89.7 248.2L90.0 245.3M122.1 220.7L122.7 223.4L120.0 225.6L118.1 226.3L118.1 227.2L115.3 227.2M118.1 227.5L120.5 229.5L125.5 234.6L127.1 234.4L130.9 230.8L132.8 231.2L138.3 234.1L139.0 232.0L146.3 232.0M128.8 218.9L128.2 222.3L129.3 224.9L130.6 222.3M129.3 224.9L129.6 228.2L130.9 230.8M139.1 223.8L139.0 232.0M112.9 232.6L115.4 232.6L115.5 231.0L116.0 228.6L118.1 228.6L118.1 227.5M120.5 229.5L120.0 237.5L116.1 237.5L113.2 236.6M120.0 237.5L123.6 238.1L125.6 237.6L126.1 234.6M125.6 237.6L125.9 238.9L131.8 239.0L133.1 237.3L132.8 231.2M131.8 239.0L132.5 240.3L133.1 244.0L133.3 246.0L133.4 248.2L131.7 248.2L129.5 248.2M125.9 238.9L125.7 240.6L125.1 244.9M130.6 244.5L128.9 246.3M130.6 244.5L132.5 240.3M133.1 237.3L137.7 237.9L138.3 234.1M137.7 237.9L137.7 241.1L139.0 243.6L140.4 246.0L142.6 246.5L142.7 247.2M140.4 246.0L135.6 246.0L135.0 247.2L133.4 248.2M146.3 232.0L146.1 237.9L144.7 239.9L144.5 242.3L143.9 243.6L142.6 246.5M143.9 243.6L145.7 246.3L149.4 246.4L149.2 251.3M150.2 239.9L150.0 241.9L152.6 243.6L151.4 246.0L149.5 246.8M150.2 239.9L147.6 238.3M142.6 246.5L142.9 248.2L141.8 250.8L144.5 250.8L147.8 253.8M144.5 250.8L145.7 246.3M141.8 250.8L141.6 253.6L142.6 256.8L141.4 256.6L141.9 259.7L141.9 260.8L137.1 260.5L137.2 258.9L138.3 258.8L138.3 260.5M142.6 256.8L144.5 257.7L145.1 259.4L148.5 259.3M131.1 254.7L133.8 254.7L134.3 256.5L137.0 255.9L137.2 258.9M137.1 260.5L138.0 264.3L130.8 264.1M138.0 264.3L139.1 264.6L141.7 268.1L142.9 268.3L143.9 272.0M139.1 264.6L142.3 262.6L141.9 260.8M142.3 262.6L143.9 263.8L145.7 261.7L145.1 259.4M133.7 273.6L135.9 273.1L135.9 268.0L136.5 268.0L136.5 264.6L139.1 264.6M135.9 268.0L139.3 271.1L141.7 268.1M135.0 247.2L130.9 254.0M131.7 248.2L132.5 251.8L130.8 253.9M118.1 214.2L119.4 214.3L119.0 217.8L118.9 218.7M122.3 212.9L125.4 213.7M125.1 205.0L127.3 206.6L128.2 208.6L127.8 210.3L128.1 212.4M128.2 208.6L129.4 208.7L132.0 209.7L133.4 209.3M127.9 202.7L127.2 205.3L127.3 206.6M129.0 200.9L129.6 200.9M132.3 201.8L132.8 205.1L131.0 205.9L132.0 207.4L131.5 208.7L129.4 208.7M132.8 205.1L135.1 206.6L137.4 207.0L137.2 208.2L135.1 208.4L133.4 209.3L133.7 209.8L132.0 210.7M135.7 201.4L138.0 201.5L138.1 204.5L137.4 207.0M138.0 201.5L136.5 199.4L140.9 199.4L140.4 197.9L140.8 195.7M140.9 199.4L143.6 202.4L143.2 203.8L138.1 204.5M143.2 203.8L144.5 203.7L145.7 205.8L148.3 206.2L147.1 209.1M137.2 208.2L140.0 207.9L140.9 210.7L141.9 211.0M136.0 210.1L137.4 211.7L137.4 212.4L141.2 212.2M133.7 209.8L136.0 210.1L137.2 208.2M137.4 211.7L137.3 213.9L137.6 214.8L139.8 214.9L140.8 214.2M137.3 213.9L136.2 214.3L135.9 216.4M137.6 214.8L136.5 215.2L135.9 216.4M132.0 210.7L135.2 211.0L134.9 213.7M135.2 211.0L135.4 211.3L135.4 213.7L135.5 214.3M136.2 183.3L137.1 184.0L138.4 187.6M141.4 182.1L141.1 183.4L141.9 188.7L143.0 191.4L140.7 194.3M136.2 183.3L130.9 191.2L131.4 193.7L130.5 196.1M140.8 181.8L137.1 184.0M149.3 214.6L150.4 214.9L152.2 214.3L153.6 214.3M148.3 212.7L150.7 213.7L152.2 214.3M145.9 218.9L149.7 218.8L151.1 216.4L153.2 216.6M149.7 218.8L147.5 222.2L146.3 223.1L145.2 225.7M149.7 218.8L152.0 220.7L152.0 222.5L153.5 225.2M147.5 222.2L147.8 223.4L151.2 226.0L152.3 226.0L153.5 226.5M145.5 222.3L146.3 223.1M155.5 230.2L157.7 231.4L157.6 233.7L155.7 234.6L153.8 236.0L150.2 236.6M155.7 234.6L156.4 236.5M158.2 230.2L157.7 231.4M156.9 218.5L158.9 217.8L161.4 219.2L161.5 220.2L161.2 223.9L161.2 225.3L162.7 227.6L161.7 229.3M161.4 219.2L162.5 220.3L164.1 218.5L165.5 218.7L167.8 218.9L169.7 218.5L169.7 219.0M161.2 225.3L163.1 225.7L164.6 225.3L166.4 223.5L167.2 221.6L169.7 219.0M156.0 214.2L158.2 214.8L159.7 211.2M158.2 214.8L161.3 214.8L164.1 218.5M165.5 218.7L165.2 216.8L166.2 214.9L167.5 215.9L161.3 214.8M153.5 209.8L152.5 207.2L155.4 205.1L160.4 205.3L161.6 201.8L166.2 200.3L169.0 202.4L172.9 205.1L177.6 207.0M166.2 214.9L169.0 213.2L173.2 213.0L173.2 214.2L169.3 215.6L169.2 216.5L169.7 218.5M173.2 213.0L173.1 211.2L174.9 209.0L177.6 207.0M177.6 207.0L180.5 205.6L184.2 206.1L184.7 204.0L186.9 205.8L190.7 206.6L195.8 206.1L197.7 209.5L192.8 211.2L191.2 213.6L183.2 213.5L179.7 210.7L177.6 207.0M195.8 206.1L198.4 202.6L200.1 202.4L202.7 206.5L204.7 208.5L207.0 207.9L205.9 211.2L204.4 213.7M204.4 213.7L202.8 214.5L200.6 216.1M203.0 217.7L201.7 218.1M169.7 219.0L172.0 221.0L172.4 223.0L173.8 225.0L178.1 227.1L180.5 227.0L183.1 225.8L183.9 226.7M169.7 219.0L169.8 222.7L169.0 225.2L166.9 226.9L167.4 230.1L165.7 230.6M173.8 225.0L173.1 226.2L178.0 228.3M178.0 228.3L179.1 228.2L179.2 229.3L178.7 232.2M179.1 228.2L180.5 228.0L180.7 229.3L180.1 231.2L180.8 231.3L180.7 232.7M183.9 226.7L184.0 230.4L186.2 232.7L186.8 231.6L189.6 231.4L190.4 232.5M182.7 227.6L181.9 230.2L181.1 232.1M182.7 227.6L183.9 226.7M186.2 232.7L185.5 233.5L184.0 235.6L184.8 238.3L184.7 241.9M185.5 233.5L186.2 235.6L188.1 235.2L188.7 238.4L190.1 238.4M186.8 231.6L188.2 234.1L190.1 238.4L189.5 240.6L188.2 241.6M188.7 238.4L187.2 238.4L187.1 240.2M185.5 244.8L186.5 245.3M210.9 252.1L210.9 257.3" fill="none" stroke="#c9d0dc" stroke-width=".45" stroke-linejoin="round" opacity=".8"/>
</g>
<path d="M-4.0 402.0C-2.3 401.6 3.2 400.4 6.0 399.5C8.8 398.6 9.7 399.9 13.0 396.5C16.3 393.1 22.1 385.4 26.0 379.3C29.9 373.2 32.8 366.7 36.7 359.9C40.6 353.1 45.7 343.9 49.6 338.3C53.5 332.7 56.4 329.1 60.4 326.4C64.4 323.7 69.1 323.1 73.4 322.1C77.7 321.1 82.0 321.1 86.3 320.2C90.6 319.3 94.8 319.7 99.3 316.5C103.8 313.3 108.7 305.2 113.0 301.0C117.3 296.8 121.0 294.1 125.2 291.5C129.4 288.9 133.4 287.0 138.1 285.4C142.8 283.8 147.4 283.2 153.3 281.7C159.2 280.2 167.7 279.3 173.3 276.2C178.9 273.1 182.2 268.2 186.7 263.3C191.1 258.4 195.6 251.1 200.0 246.7C204.4 242.3 208.9 239.1 213.3 237.0C217.8 234.9 222.2 233.8 226.7 234.3C231.1 234.8 235.6 236.1 240.0 240.0C244.4 243.9 249.6 250.8 253.3 257.5C257.0 264.2 258.6 271.8 262.0 280.2C265.4 288.6 270.0 300.5 274.0 308.2C278.0 315.9 282.0 321.8 286.0 326.2C290.0 330.6 294.0 332.8 298.0 334.3C302.0 335.8 306.0 336.0 310.0 335.0C314.0 334.0 318.0 332.8 322.0 328.3C326.0 323.8 330.0 316.2 334.0 308.2C338.0 300.2 342.0 289.2 346.0 280.2C350.0 271.2 354.0 260.9 358.0 254.2C362.0 247.5 366.0 242.9 370.0 240.1C374.0 237.3 377.3 238.0 382.0 237.3C386.7 236.6 392.7 237.0 398.0 236.1C403.3 235.2 409.3 233.8 414.0 232.1C418.7 230.4 421.3 227.8 426.0 226.1C430.7 224.4 436.7 223.1 442.0 222.1C447.3 221.1 453.0 220.8 458.0 220.1C463.0 219.4 468.0 219.4 472.0 218.1C476.0 216.8 478.3 215.8 482.0 212.1C485.7 208.4 490.0 201.4 494.0 196.1C498.0 190.8 502.0 184.4 506.0 180.1C510.0 175.8 513.3 172.1 518.0 170.0C522.7 167.9 531.3 167.8 534.0 167.3" fill="none" stroke="url(#gg)" stroke-width="1.6"/>
<path d="M-4.0 403.5C-2.7 403.1 1.5 402.0 4.0 401.0C6.5 400.0 7.9 400.5 10.8 397.6C13.7 394.7 18.0 388.9 21.6 383.6C25.2 378.3 28.9 372.6 32.2 366.0C35.5 359.4 39.1 350.4 41.5 344.0C43.9 337.6 44.5 333.4 46.6 327.8C48.7 322.2 51.4 315.1 54.0 310.5C56.6 305.9 59.3 302.7 62.0 300.0C64.7 297.3 67.0 295.7 70.0 294.5C73.0 293.3 76.6 292.6 80.0 292.7C83.4 292.8 86.7 293.5 90.6 295.1C94.5 296.7 99.3 299.4 103.6 302.5C107.9 305.6 112.1 309.9 116.5 313.5C120.9 317.1 125.7 321.5 130.0 324.0C134.3 326.5 138.7 327.7 142.4 328.6C146.1 329.5 149.1 329.6 152.0 329.5C154.9 329.4 156.4 329.9 160.0 328.3C163.6 326.7 168.9 324.4 173.3 320.0C177.8 315.6 182.2 308.9 186.7 301.7C191.1 294.5 195.6 283.4 200.0 276.7C204.4 270.0 208.6 265.1 213.3 261.7C218.0 258.2 223.9 256.3 228.3 256.0C232.8 255.7 235.8 256.6 240.0 260.0C244.2 263.4 249.6 270.0 253.3 276.7C257.0 283.4 258.6 290.3 262.0 300.2C265.4 310.1 270.0 326.9 274.0 336.3C278.0 345.7 282.0 351.8 286.0 356.3C290.0 360.8 294.0 362.2 298.0 363.5C302.0 364.8 306.0 364.8 310.0 364.3C314.0 363.8 318.0 362.3 322.0 360.3C326.0 358.3 330.0 356.0 334.0 352.3C338.0 348.6 342.0 342.3 346.0 338.3C350.0 334.3 354.0 330.8 358.0 328.3C362.0 325.8 365.3 324.5 370.0 323.4C374.7 322.2 381.3 322.6 386.0 321.4C390.7 320.2 394.0 319.1 398.0 316.2C402.0 313.3 406.0 309.2 410.0 304.2C414.0 299.2 418.0 291.9 422.0 286.2C426.0 280.5 430.0 274.2 434.0 270.2C438.0 266.2 441.7 264.0 446.0 262.2C450.3 260.4 456.0 260.7 460.0 259.4C464.0 258.1 466.3 258.1 470.0 254.2C473.7 250.3 478.0 245.1 482.0 236.1C486.0 227.1 490.0 212.1 494.0 200.1C498.0 188.1 502.0 174.1 506.0 164.1C510.0 154.1 514.7 145.7 518.0 140.0C521.3 134.3 524.7 131.7 526.0 130.0" fill="none" stroke="url(#yg)" stroke-width="1.6"/>
<line x1="296.5" y1="553" x2="859" y2="553" stroke="#d9d9d9" stroke-width="1.3"/>
<rect x="352" y="392.3" width="77" height="8.7" fill="#6fad46"/><rect x="352" y="401" width="77" height="6" fill="#7f7f7f"/><rect x="352" y="407" width="77" height="34" fill="#fc9545"/><rect x="352" y="441" width="77" height="65" fill="#3878b4"/><rect x="352" y="506" width="77" height="46.5" fill="#b33a31"/><rect x="539.7" y="384" width="77.2" height="10" fill="#6fad46"/><rect x="539.7" y="394" width="77.2" height="6" fill="#7f7f7f"/><rect x="539.7" y="400" width="77.2" height="37" fill="#fc9545"/><rect x="539.7" y="437" width="77.2" height="67" fill="#3878b4"/><rect x="539.7" y="504" width="77.2" height="48.5" fill="#b33a31"/><rect x="726.5" y="328" width="77.2" height="13.3" fill="#6fad46"/><rect x="726.5" y="341.3" width="77.2" height="6.5" fill="#7f7f7f"/><rect x="726.5" y="347.8" width="77.2" height="53.2" fill="#fc9545"/><rect x="726.5" y="401" width="77.2" height="85" fill="#3878b4"/><rect x="726.5" y="486" width="77.2" height="66.5" fill="#b33a31"/>
<line x1="609" y1="389" x2="716" y2="332" stroke="#d6d8dc" stroke-width="1"/>
<path d="M723 328.3L713 329.3L717.3 337.2Z" fill="#d6d6d6"/>
<ellipse cx="665.2" cy="356" rx="32" ry="34" fill="#fc7f03"/>
</svg>

<div class="t" id="cagr">CAGR OF</div>
<div class="t" id="big">5.9</div>
<div class="t" id="pct">%</div>
<div id="para"><div>The Global Udder</div><div>Health Market is</div><div>expected to be worth</div><div><span style="letter-spacing:-1.2px">USD</span> 1.6 billion by</div><div>2029, growing at a</div><div><span style="letter-spacing:-1.7px">CAGR</span> of 5.9% during</div><div class="last">the forecast period.</div></div>

<svg width="260" height="649" viewBox="0 0 260 649" style="position:absolute;left:0;top:0;opacity:.45"><path d="M-4.0 402.0C-2.3 401.6 3.2 400.4 6.0 399.5C8.8 398.6 9.7 399.9 13.0 396.5C16.3 393.1 22.1 385.4 26.0 379.3C29.9 373.2 32.8 366.7 36.7 359.9C40.6 353.1 45.7 343.9 49.6 338.3C53.5 332.7 56.4 329.1 60.4 326.4C64.4 323.7 69.1 323.1 73.4 322.1C77.7 321.1 82.0 321.1 86.3 320.2C90.6 319.3 94.8 319.7 99.3 316.5C103.8 313.3 108.7 305.2 113.0 301.0C117.3 296.8 121.0 294.1 125.2 291.5C129.4 288.9 133.4 287.0 138.1 285.4C142.8 283.8 147.4 283.2 153.3 281.7C159.2 280.2 167.7 279.3 173.3 276.2C178.9 273.1 182.2 268.2 186.7 263.3C191.1 258.4 195.6 251.1 200.0 246.7C204.4 242.3 208.9 239.1 213.3 237.0C217.8 234.9 222.2 233.8 226.7 234.3C231.1 234.8 235.6 236.1 240.0 240.0C244.4 243.9 249.6 250.8 253.3 257.5C257.0 264.2 258.6 271.8 262.0 280.2C265.4 288.6 270.0 300.5 274.0 308.2C278.0 315.9 282.0 321.8 286.0 326.2C290.0 330.6 294.0 332.8 298.0 334.3C302.0 335.8 306.0 336.0 310.0 335.0C314.0 334.0 318.0 332.8 322.0 328.3C326.0 323.8 330.0 316.2 334.0 308.2C338.0 300.2 342.0 289.2 346.0 280.2C350.0 271.2 354.0 260.9 358.0 254.2C362.0 247.5 366.0 242.9 370.0 240.1C374.0 237.3 377.3 238.0 382.0 237.3C386.7 236.6 392.7 237.0 398.0 236.1C403.3 235.2 409.3 233.8 414.0 232.1C418.7 230.4 421.3 227.8 426.0 226.1C430.7 224.4 436.7 223.1 442.0 222.1C447.3 221.1 453.0 220.8 458.0 220.1C463.0 219.4 468.0 219.4 472.0 218.1C476.0 216.8 478.3 215.8 482.0 212.1C485.7 208.4 490.0 201.4 494.0 196.1C498.0 190.8 502.0 184.4 506.0 180.1C510.0 175.8 513.3 172.1 518.0 170.0C522.7 167.9 531.3 167.8 534.0 167.3" fill="none" stroke="url(#gg)" stroke-width="1.4"/><path d="M-4.0 403.5C-2.7 403.1 1.5 402.0 4.0 401.0C6.5 400.0 7.9 400.5 10.8 397.6C13.7 394.7 18.0 388.9 21.6 383.6C25.2 378.3 28.9 372.6 32.2 366.0C35.5 359.4 39.1 350.4 41.5 344.0C43.9 337.6 44.5 333.4 46.6 327.8C48.7 322.2 51.4 315.1 54.0 310.5C56.6 305.9 59.3 302.7 62.0 300.0C64.7 297.3 67.0 295.7 70.0 294.5C73.0 293.3 76.6 292.6 80.0 292.7C83.4 292.8 86.7 293.5 90.6 295.1C94.5 296.7 99.3 299.4 103.6 302.5C107.9 305.6 112.1 309.9 116.5 313.5C120.9 317.1 125.7 321.5 130.0 324.0C134.3 326.5 138.7 327.7 142.4 328.6C146.1 329.5 149.1 329.6 152.0 329.5C154.9 329.4 156.4 329.9 160.0 328.3C163.6 326.7 168.9 324.4 173.3 320.0C177.8 315.6 182.2 308.9 186.7 301.7C191.1 294.5 195.6 283.4 200.0 276.7C204.4 270.0 208.6 265.1 213.3 261.7C218.0 258.2 223.9 256.3 228.3 256.0C232.8 255.7 235.8 256.6 240.0 260.0C244.2 263.4 249.6 270.0 253.3 276.7C257.0 283.4 258.6 290.3 262.0 300.2C265.4 310.1 270.0 326.9 274.0 336.3C278.0 345.7 282.0 351.8 286.0 356.3C290.0 360.8 294.0 362.2 298.0 363.5C302.0 364.8 306.0 364.8 310.0 364.3C314.0 363.8 318.0 362.3 322.0 360.3C326.0 358.3 330.0 356.0 334.0 352.3C338.0 348.6 342.0 342.3 346.0 338.3C350.0 334.3 354.0 330.8 358.0 328.3C362.0 325.8 365.3 324.5 370.0 323.4C374.7 322.2 381.3 322.6 386.0 321.4C390.7 320.2 394.0 319.1 398.0 316.2C402.0 313.3 406.0 309.2 410.0 304.2C414.0 299.2 418.0 291.9 422.0 286.2C426.0 280.5 430.0 274.2 434.0 270.2C438.0 266.2 441.7 264.0 446.0 262.2C450.3 260.4 456.0 260.7 460.0 259.4C464.0 258.1 466.3 258.1 470.0 254.2C473.7 250.3 478.0 245.1 482.0 236.1C486.0 227.1 490.0 212.1 494.0 200.1C498.0 188.1 502.0 174.1 506.0 164.1C510.0 154.1 514.7 145.7 518.0 140.0C521.3 134.3 524.7 131.7 526.0 130.0" fill="none" stroke="url(#yg)" stroke-width="1.4"/></svg>
<div class="t val" id="v1" style="left:378.3px;top:363px">1.1</div>
<div class="t val" id="v2" style="left:564.6px;top:359.2px">1.2</div>
<div class="t val" id="v3" style="left:750px;top:301px">1.6</div>
<div class="t" id="cpct" style="left:639.8px;top:344px;font-size:22px;font-weight:bold;color:#fdf2e4;transform:scaleX(1.035)">5.9%</div>
<div class="t yr" id="y1" style="left:369.8px;top:566.3px">2023</div>
<div class="t yr" id="y2" style="left:557px;top:566.3px">2024</div>
<div class="t yr" id="y3" style="left:744px;top:566.3px">2029</div>

<div class="mk" style="left:296.7px;top:599.2px;background:#b33a31"></div>
<div class="t lg" id="l1" style="left:310.4px;top:595.3px">North America</div>
<div class="mk" style="left:487.7px;top:599.2px;background:#3878b4"></div>
<div class="t lg" id="l2" style="left:500.8px;top:595.3px">Europe</div>
<div class="mk" style="left:678.7px;top:599.2px;background:#fc9545"></div>
<div class="t lg" id="l3" style="left:693.3px;top:595.3px;transform:scaleX(.978)">Asia-Pacific</div>
<div class="mk" style="left:296.7px;top:627.2px;background:#7f7f7f"></div>
<div class="t lg" id="l4" style="left:310.4px;top:624.1px">Middle-East &amp; Africa</div>
<div class="mk" style="left:487.7px;top:627.2px;background:#6fad46"></div>
<div class="t lg" id="l5" style="left:501.3px;top:624.1px">Latin America</div>
</body></html>
